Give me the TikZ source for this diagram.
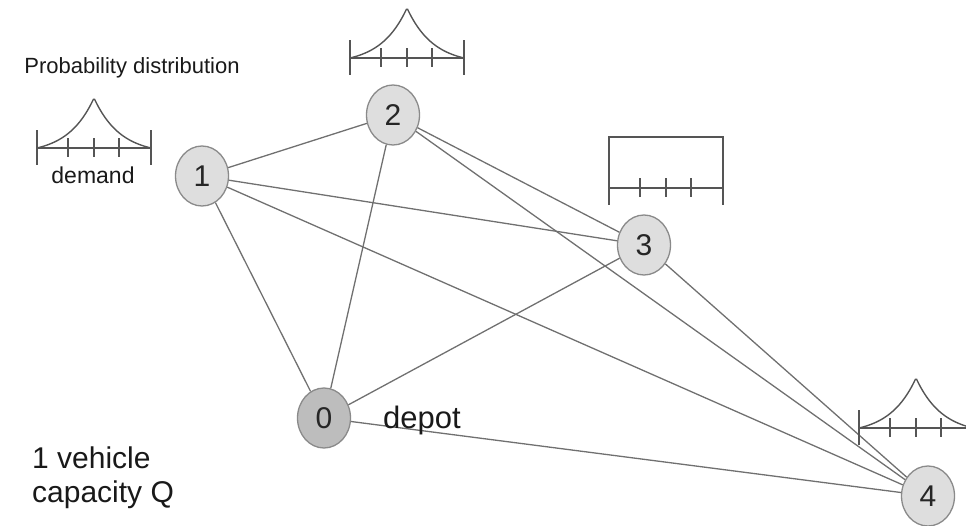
\documentclass[tikz,border=0pt]{standalone}
\usepackage{fontspec}
\setmainfont{Liberation Sans}
\usetikzlibrary{shapes.geometric}
\definecolor{nodefill}{HTML}{DEDEDE}
\definecolor{depotfill}{HTML}{BDBDBD}
\definecolor{nodeborder}{HTML}{8A8A8A}
\definecolor{edgecol}{HTML}{707070}
\definecolor{iconcol}{HTML}{555555}
\newcommand\distrticks{%
  \draw[icon] (0,0) -- (114,0);
  \draw[icon] (0,-18) -- (0,17) (114,-18) -- (114,17);
  \foreach \tk in {31,57,82} \draw[icon] (\tk,-10) -- (\tk,9);}
\newcommand\distr[2]{%
  \begin{scope}[shift={(#1,#2)}]
    \distrticks
    \draw[icon] plot[domain=0:114,samples=90] (\x,{-50*(exp(-abs(\x-57)/26)-0.112)/0.888});
  \end{scope}}
\begin{document}
\begin{tikzpicture}[x=1pt,y=-1pt,
  vnode/.style={ellipse, draw=nodeborder, line width=1.3pt, fill=nodefill,
    minimum width=53pt, minimum height=60pt, inner sep=0pt,
    font=\fontsize{30}{30}\selectfont, text=black!85},
  edge/.style={draw=edgecol, line width=1.3pt},
  icon/.style={draw=iconcol, line width=1.4pt},
  lbl/.style={inner sep=0pt, text=black!90}]
\useasboundingbox (0,0) rectangle (966,525);
\clip (0,0) rectangle (966,525);
% nodes
\node[vnode] (n1) at (202,176) {1};
\node[vnode] (n2) at (393,115) {2};
\node[vnode] (n3) at (644,245) {3};
\node[vnode] (n4) at (928,496) {4};
\node[vnode, fill=depotfill] (n0) at (324,418) {0};
% edges
\draw[edge] (n1) -- (n2);
\draw[edge] (n1) -- (n3);
\draw[edge] (n1) -- (n4);
\draw[edge] (n1) -- (n0);
\draw[edge] (n2) -- (n0);
\draw[edge] (n2) -- (n3);
\draw[edge] (n2) -- (n4);
\draw[edge] (n3) -- (n0);
\draw[edge] (n3) -- (n4);
\draw[edge] (n0) -- (n4);
% distributions
\distr{37}{148}
\distr{350}{58}
\distr{859}{428}
\begin{scope}[shift={(609,188)}]
  \distrticks
  \draw[icon] (0,0) -- (0,-51) -- (114,-51) -- (114,0);
\end{scope}
% labels
\node[lbl, anchor=base, font=\fontsize{22}{22}\selectfont] (pd) at (132,73) {Probability distribution};
\node[lbl, anchor=base, font=\fontsize{23}{23}\selectfont] (dm) at (93,183) {demand};
\node[lbl, anchor=base west, font=\fontsize{31}{31}\selectfont] (dp) at (383,428) {depot};
\node[lbl, anchor=base west, font=\fontsize{30}{30}\selectfont] (v1) at (32,468) {1 vehicle};
\node[lbl, anchor=base west, font=\fontsize{30}{30}\selectfont] (cq) at (32,502) {capacity Q};
\end{tikzpicture}
\end{document}
